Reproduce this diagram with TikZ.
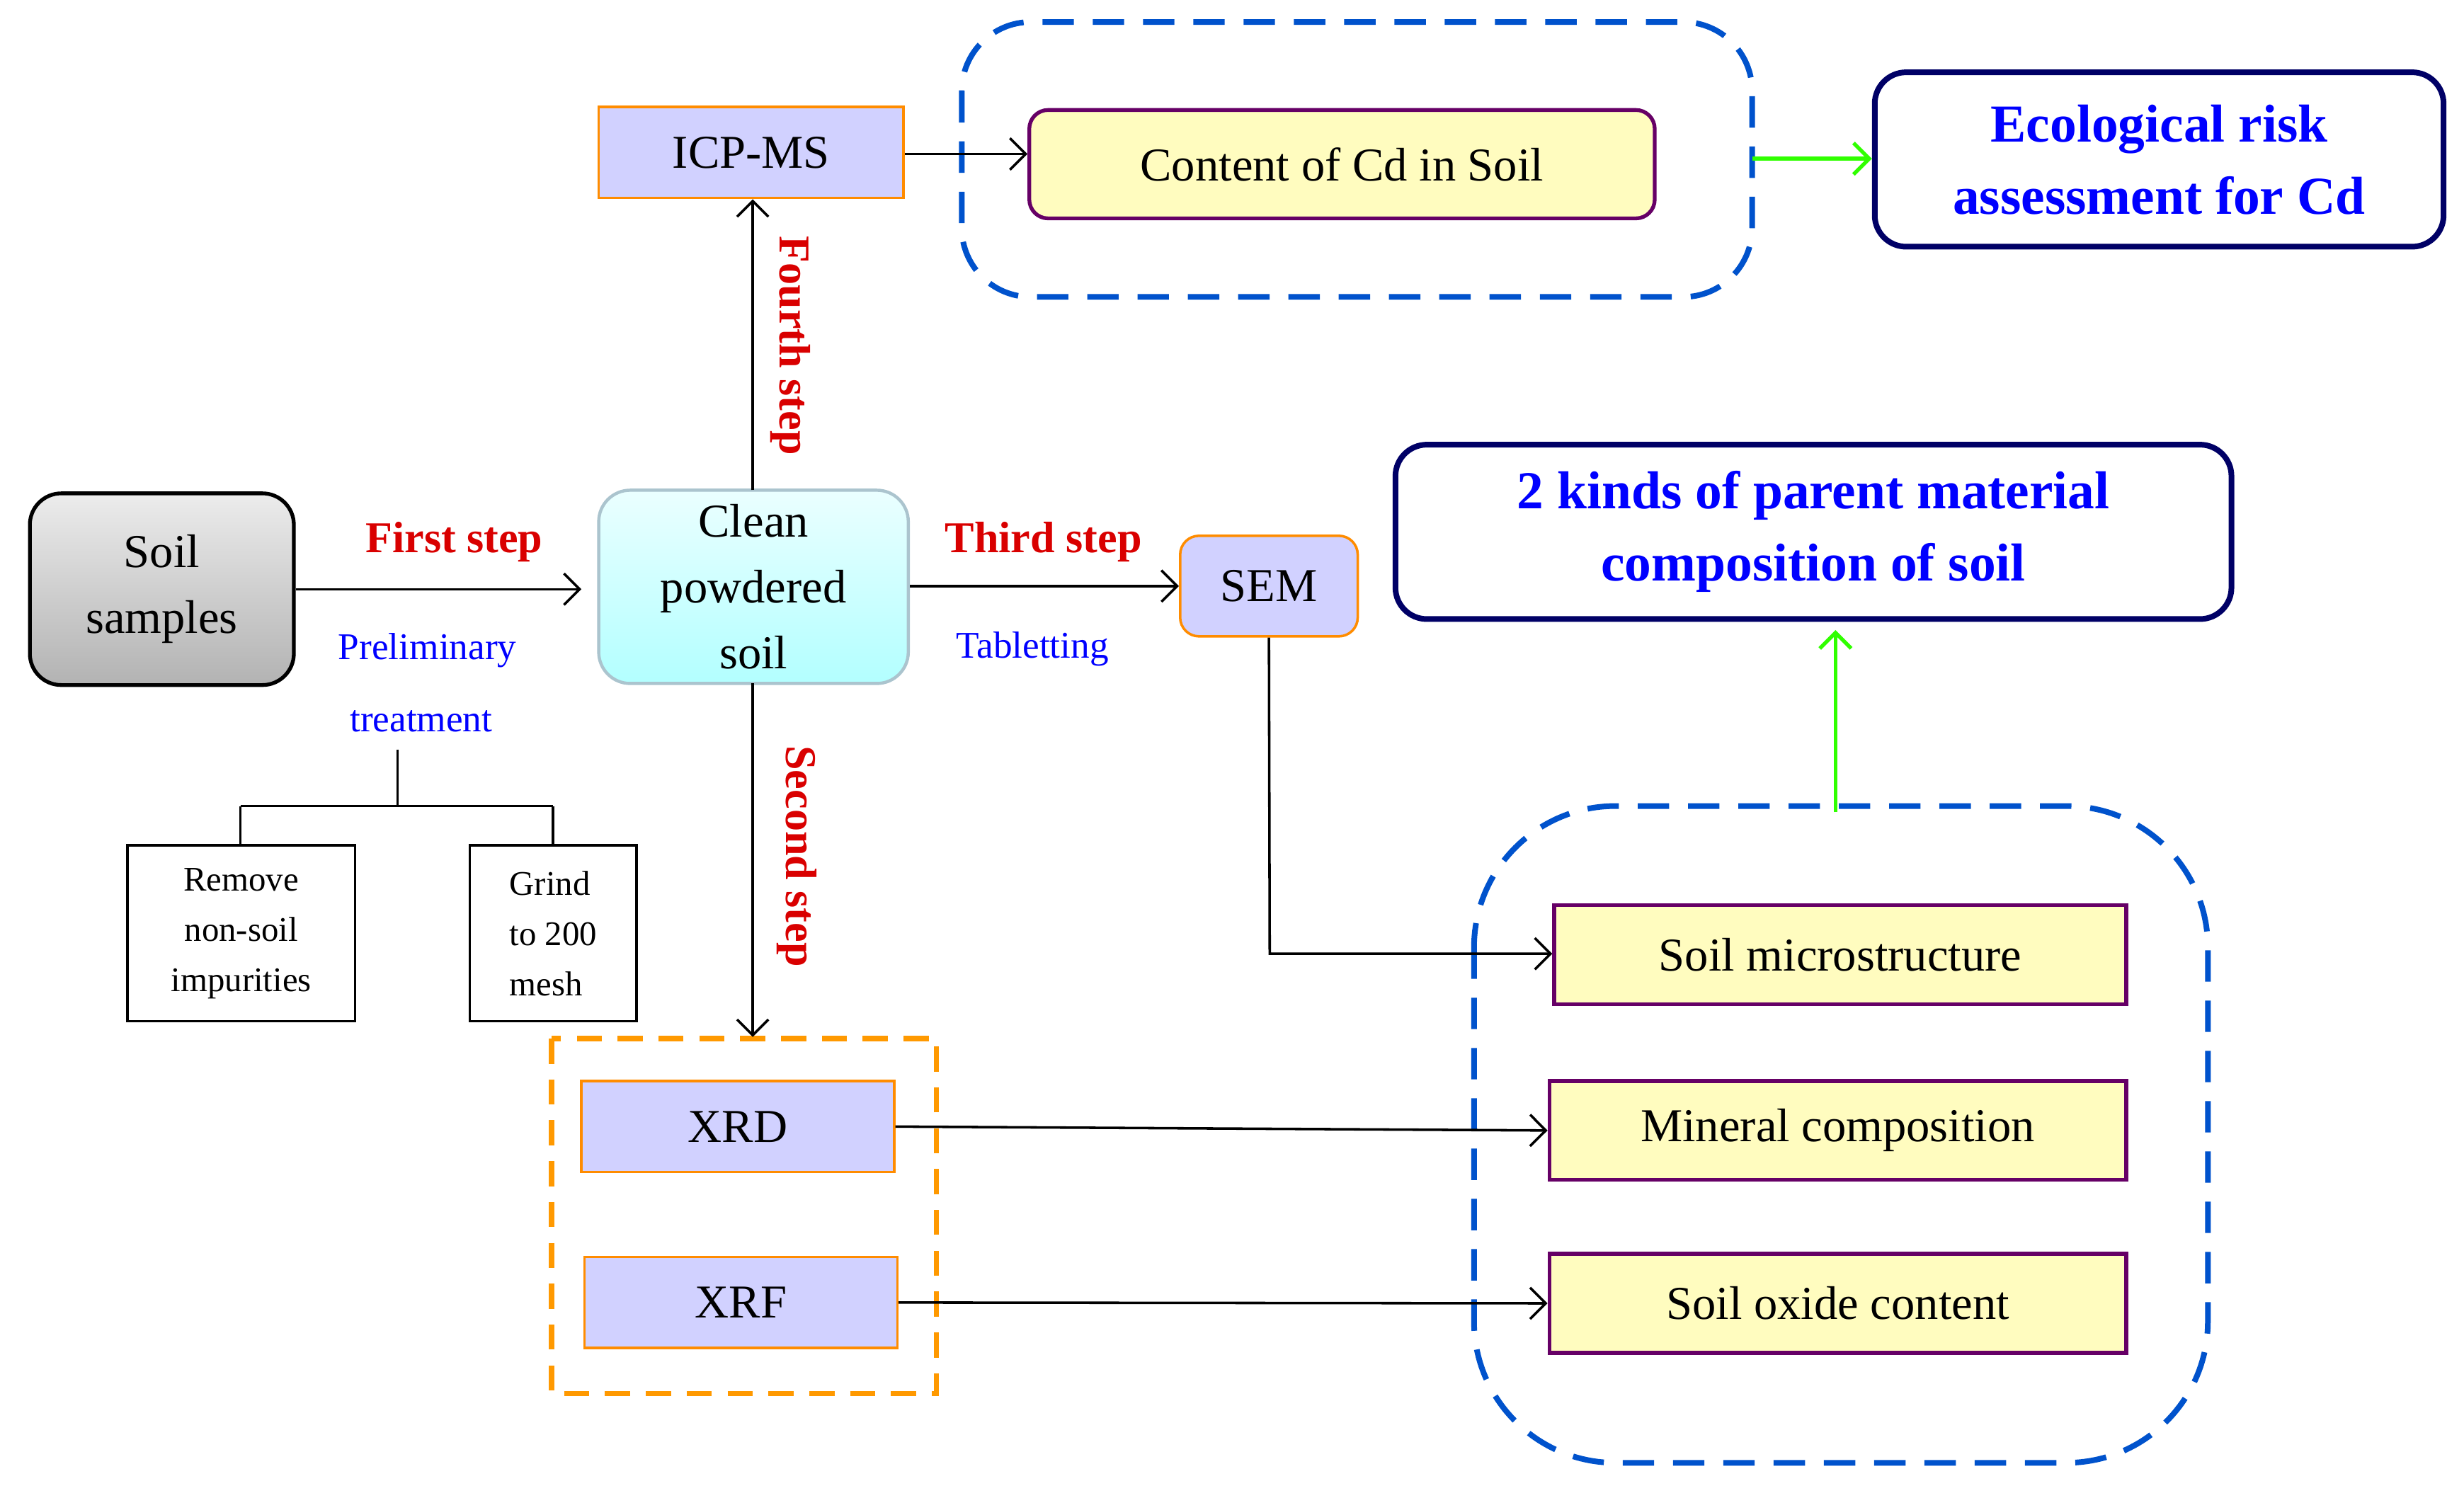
\documentclass[tikz,border=0pt]{standalone}
\usepackage{fontspec}
\setmainfont{Liberation Serif}
\usetikzlibrary{arrows.meta}
\begin{document}
\begin{tikzpicture}[x=0.5pt,y=-0.5pt,
 box/.style={draw,thick,minimum width=0pt,inner sep=0pt,align=center,font=\fontsize{15}{17}\selectfont},
 lav/.style={box,fill=blue!18,draw=orange!90!yellow},
 yel/.style={box,fill=yellow!25,draw=violet!80!black,line width=1.2pt},
 big/.style={box,draw=blue!40!black,line width=1.8pt,rounded corners=10pt,text=blue,font=\bfseries\fontsize{17}{23}\selectfont},
 wb/.style={box,fill=white,draw=black,font=\fontsize{11}{16}\selectfont},
 arr/.style={-{Straight Barb[length=5pt]},thick},
 garr/.style={-{Straight Barb[length=5pt]},line width=1.2pt,draw=green!75!lime},
 steplbl/.style={text=red!85!black,font=\bfseries\fontsize{14}{16}\selectfont},
 sub/.style={text=blue,font=\fontsize{12}{14}\selectfont}]
\useasboundingbox (0,0) rectangle (1568,953);
\def\bx#1#2#3#4#5#6#7{\node[#2,minimum width={(#5-#3)*0.5pt},minimum height={(#6-#4)*0.5pt}] (#1) at ({(#3+#5)/2},{(#4+#6)/2}) {#7};}
\draw[dashed,draw=blue!60!cyan!80!black,line width=1.8pt,dash pattern=on 10pt off 6pt,rounded corners=22pt] (612,14) rectangle (1115,189);
\draw[dashed,draw=blue!60!cyan!80!black,line width=1.8pt,dash pattern=on 10pt off 6pt,rounded corners=45pt] (938,513) rectangle (1405,931);
\draw[dashed,draw=orange!80!yellow,line width=1.6pt,dash pattern=on 8pt off 5pt] (351,661) rectangle (596,887);
\bx{icp}{lav}{381}{68}{575}{126}{ICP-MS}
\bx{cd}{yel,rounded corners=6pt}{655}{70}{1053}{139}{Content of Cd in Soil}
\bx{eco}{big}{1193}{46}{1555}{157}{Ecological risk\\assessment for Cd}
\bx{soil}{box,rounded corners=10pt,top color=gray!15,bottom color=gray!60,draw=black,line width=1.2pt,font=\fontsize{15}{21}\selectfont}{19}{314}{187}{436}{Soil\\samples}
\bx{clean}{box,rounded corners=10pt,top color=cyan!8,bottom color=cyan!30,draw=cyan!30!gray!60,line width=1pt,font=\fontsize{15}{21}\selectfont}{381}{312}{578}{435}{Clean\\powdered\\soil}
\bx{sem}{lav,rounded corners=6pt}{751}{341}{864}{405}{SEM}
\bx{kinds}{big}{888}{283}{1420}{394}{2 kinds of parent material\\composition of soil}
\bx{rem}{wb}{81}{538}{226}{650}{Remove\\non-soil\\impurities}
\bx{gri}{wb,align=left}{299}{538}{405}{650}{Grind\\to 200\\mesh}
\bx{xrd}{lav}{370}{688}{569}{746}{XRD}
\bx{xrf}{lav}{372}{800}{571}{858}{XRF}
\bx{mic}{yel}{989}{576}{1353}{639}{Soil microstructure}
\bx{min}{yel}{986}{688}{1353}{751}{Mineral composition}
\bx{oxi}{yel}{986}{798}{1353}{861}{Soil oxide content}
\coordinate (c1) at (1115,101);
\coordinate (c2) at (1168,517);
\coordinate (dn) at (479,660);
\coordinate (sc) at (808,607);
\draw[arr] (soil.east |- 0,375) -- (370,375);
\draw[arr] (icp.east |- 0,98) -- (cd.west |- 0,98);
\draw[arr] (479,312) -- (icp.south -| 479,0);
\draw[arr] (clean.east |- 0,373) -- (sem.west |- 0,373);
\draw[arr] (479,435) -- (dn);
\draw[arr] (sem.south) -- (sc) -- (mic.west |- sc);
\draw[arr] (xrd.east) -- (min.west);
\draw[arr] (xrf.east) -- (oxi.west);
\draw[garr] (c1) -- (eco.west |- c1);
\draw[garr] (c2) -- (1168,401);
\draw[thick] (253,477) -- (253,513) (153,513) -- (352,513) (153,513) -- (rem.north -| 153,0) (352,513) -- (gri.north -| 352,0);
\node[steplbl] (s1) at (289,345) {First step};
\node[sub] (p1) at (272,414) {Preliminary};
\node[sub] (p2) at (268,459) {treatment};
\node[steplbl] (s3) at (664,345) {Third step};
\node[sub] (tb) at (657,413) {Tabletting};
\node[steplbl,rotate=-90] (s4) at (503,220) {Fourth step};
\node[steplbl,rotate=-90] (s2) at (507,545) {Second step};
\end{tikzpicture}
\end{document}
